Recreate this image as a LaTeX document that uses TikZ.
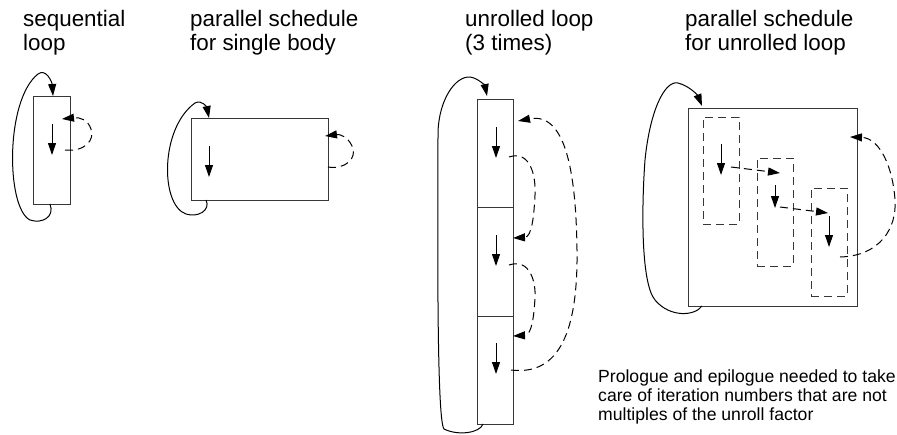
\documentclass[tikz,border=0pt]{standalone}
\usepackage{fontspec}
\setmainfont{Liberation Sans}
\usetikzlibrary{arrows.meta}
\definecolor{boxc}{RGB}{55,55,55}
\begin{document}
\begin{tikzpicture}[x=1pt,y=-1pt,
  box/.style={draw=boxc, line width=1pt, inner sep=0pt},
  dbox/.style={box, dash pattern=on 8pt off 5pt},
  arr/.style={line width=1pt, -{Triangle[length=12pt,width=8pt]}},
  darr/.style={arr, dash pattern=on 8pt off 5pt},
  title/.style={font=\fontsize{22.4}{24}\selectfont, align=left, anchor=base west, inner sep=0pt},
  note/.style={font=\fontsize{17.6}{18.8}\selectfont, align=left, anchor=base west, inner sep=0pt}]
\useasboundingbox (0,0) rectangle (897,434);

% titles (anchor = baseline of the last line)
\node[title] (t1) at (23,50) {sequential\\loop};
\node[title] (t2) at (190,50) {parallel schedule\\for single body};
\node[title] (t3) at (465,50) {unrolled loop\\(3 times)};
\node[title] (t4) at (685,50) {parallel schedule\\for unrolled loop};
\node[note] (n1) at (598,420) {Prologue and epilogue needed to take\\care of iteration numbers that are not\\multiples of the unroll factor};

% ---------- panel 1
\node[box, minimum width=37pt, minimum height=108pt] (r1) at (51.5,150) {};
\coordinate (p1a) at (52,124); \coordinate (p1b) at (52,155);
\draw[arr] (p1a) -- (p1b);
\coordinate (l1s) at (50,204); \coordinate (l1e) at (53,96);
\draw[arr] (l1s) .. controls (55,217) and (42,224) .. (30,220)
  .. controls (6,208) and (5,100) .. (38,74)
  .. controls (46,68) and (52,82) .. (l1e);
\coordinate (d1s) at (65,150); \coordinate (d1e) at (62,119);
\draw[darr] (d1s) .. controls (85,152) and (95,140) .. (91,129)
  .. controls (88,120) and (80,117) .. (d1e);

% ---------- panel 2
\node[box, minimum width=137pt, minimum height=82pt] (r2) at (259.5,159) {};
\coordinate (p2a) at (209,146); \coordinate (p2b) at (209,177);
\draw[arr] (p2a) -- (p2b);
\coordinate (l2s) at (206,200); \coordinate (l2e) at (209,118);
\draw[arr] (l2s) .. controls (211,210) and (198,218) .. (186,214)
  .. controls (160,205) and (160,128) .. (195,103)
  .. controls (202,99) and (207,108) .. (l2e);
\coordinate (d2s) at (328,167); \coordinate (d2e) at (325,136);
\draw[darr] (d2s) .. controls (345,170) and (358,158) .. (352,146)
  .. controls (348,137) and (340,134) .. (d2e);

% ---------- panel 3
\node[box, minimum width=36pt, minimum height=108pt] (r3a) at (495,153) {};
\node[box, minimum width=36pt, minimum height=109pt] (r3b) at (495,261.5) {};
\node[box, minimum width=36pt, minimum height=108pt] (r3c) at (495,370) {};
\coordinate (p3a) at (496,127); \coordinate (p3b) at (496,158);
\coordinate (p3c) at (496,235); \coordinate (p3d) at (496,266);
\coordinate (p3e) at (496,343); \coordinate (p3f) at (496,374);
\draw[arr] (p3a) -- (p3b);
\draw[arr] (p3c) -- (p3d);
\draw[arr] (p3e) -- (p3f);
\coordinate (l3s) at (483,424); \coordinate (l3e) at (487,96);
\draw[arr] (l3s) .. controls (480,433) and (458,436) .. (444,429)
  .. controls (436,420) and (438,200) .. (438,132)
  .. controls (439,100) and (455,76) .. (470,77)
  .. controls (478,78) and (485,86) .. (l3e);
\coordinate (d3as) at (509,157); \coordinate (d3ae) at (513,238);
\draw[darr] (d3as) .. controls (530,150) and (536,175) .. (535,195)
  .. controls (534,215) and (532,237) .. (d3ae);
\coordinate (d3bs) at (509,265); \coordinate (d3be) at (513,336);
\draw[darr] (d3bs) .. controls (530,258) and (536,282) .. (535,298)
  .. controls (534,315) and (532,335) .. (d3be);
\coordinate (d3cs) at (511,370); \coordinate (d3ce) at (518,121);
\draw[darr] (d3cs) .. controls (560,376) and (578,330) .. (577,250)
  .. controls (576,170) and (565,112) .. (d3ce);

% ---------- panel 4
\node[box, minimum width=169pt, minimum height=198pt] (r4) at (772.5,207) {};
\node[dbox, minimum width=36pt, minimum height=107pt] (s1) at (721,170.5) {};
\node[dbox, minimum width=36pt, minimum height=108pt] (s2) at (775,212) {};
\node[dbox, minimum width=36pt, minimum height=108pt] (s3) at (829,242) {};
\coordinate (p4a) at (721,144); \coordinate (p4b) at (721,175);
\coordinate (p4c) at (775,185); \coordinate (p4d) at (775,208);
\coordinate (p4e) at (829,216); \coordinate (p4f) at (829,247);
\draw[arr] (p4a) -- (p4b);
\draw[arr] (p4c) -- (p4d);
\draw[arr] (p4e) -- (p4f);
\coordinate (h1s) at (731,167); \coordinate (h1e) at (780,173);
\coordinate (h2s) at (780,207); \coordinate (h2e) at (828,213);
\draw[darr] (h1s) -- (h1e);
\draw[darr] (h2s) -- (h2e);
\coordinate (l4s) at (702,306); \coordinate (l4e) at (702,106);
\draw[arr] (l4s) .. controls (695,316) and (670,318) .. (655,300)
  .. controls (640,282) and (642,200) .. (645,160)
  .. controls (650,110) and (665,80) .. (678,83)
  .. controls (690,86) and (698,96) .. (l4e);
\coordinate (d4s) at (840,257); \coordinate (d4e) at (850,137);
\draw[darr] (d4s) .. controls (880,256) and (897,228) .. (895,200)
  .. controls (893,168) and (880,138) .. (d4e);
\end{tikzpicture}
\end{document}
